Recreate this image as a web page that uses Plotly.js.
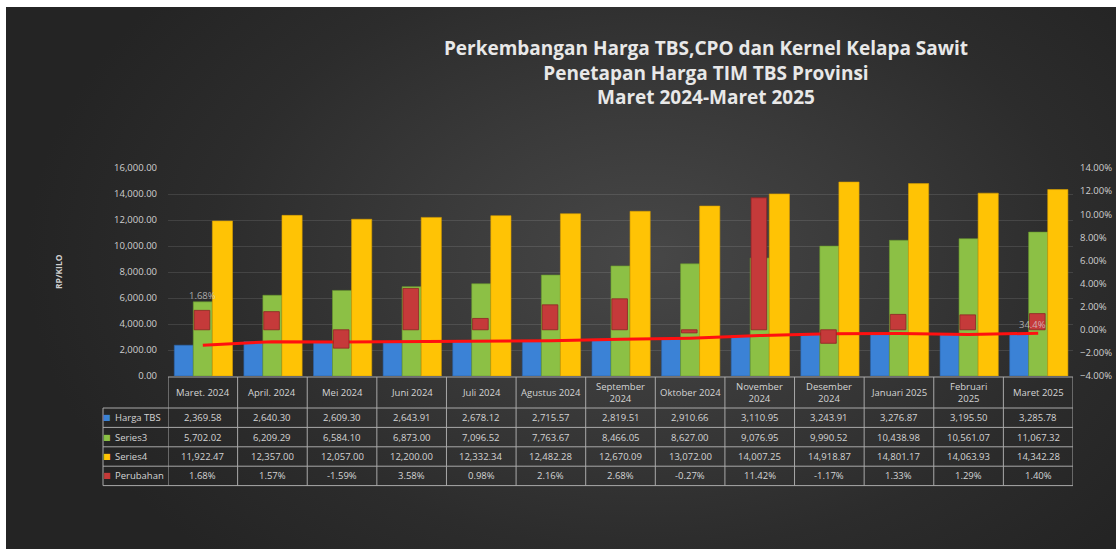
<!DOCTYPE html>
<html>
<head>
<meta charset="utf-8">
<script src="https://cdn.plot.ly/plotly-3.0.1.min.js"></script>
<style>
  html, body { margin: 0; padding: 0; background: #ffffff; }
  #bg { position: absolute; left: 6px; top: 7px; width: 1110px; height: 542px;
        background: radial-gradient(ellipse 620px 420px at 640px 250px, #474747 0%, #3a3a3a 35%, #2c2c2c 70%, #242424 100%); }
  #chart { position: absolute; left: 0; top: 0; width: 1116px; height: 549px; }
</style>
</head>
<body>
<div id="bg"></div>
<div id="chart"></div>
<script>
// ---- data ----
const categories = ['Maret. 2024','April. 2024','Mei 2024','Juni 2024','Juli 2024','Agustus 2024',
  'September 2024','Oktober 2024','November 2024','Desember 2024','Januari 2025','Februari 2025','Maret 2025'];
const tableHeaderLabels = ['Maret. 2024','April. 2024','Mei 2024','Juni 2024','Juli 2024','Agustus 2024',
  'September<br>2024','Oktober 2024','November<br>2024','Desember<br>2024','Januari 2025','Februari<br>2025','Maret 2025'];
const hargaTBS = [2369.58, 2640.30, 2609.30, 2643.91, 2678.12, 2715.57, 2819.51, 2910.66, 3110.95, 3243.91, 3276.87, 3195.50, 3285.78];
const series3  = [5702.02, 6209.29, 6584.10, 6873.00, 7096.52, 7763.67, 8466.05, 8627.00, 9076.95, 9990.52, 10438.98, 10561.07, 11067.32];
const series4  = [11922.47, 12357.00, 12057.00, 12200.00, 12332.34, 12482.28, 12670.09, 13072.00, 14007.25, 14918.87, 14801.17, 14063.93, 14342.28];
const perubahan = [1.68, 1.57, -1.59, 3.58, 0.98, 2.16, 2.68, -0.27, 11.42, -1.17, 1.33, 1.29, 1.40];
const seriesNames = ['Harga TBS', 'Series3', 'Series4', 'Perubahan'];
const lineEndLabel = '34.4%';

// ---- styles ----
const colors = { tbs: '#3b82d6', s3: '#8cc045', s4: '#ffc305', per: '#c53a3a', line: '#ff1010' };
const keyColors = [colors.tbs, colors.s3, colors.s4, colors.per];
const txt = '#d4d4d4';
const fontFam = 'Open Sans, Noto Sans, sans-serif';

const fmt = v => v.toLocaleString('en-US', { minimumFractionDigits: 2, maximumFractionDigits: 2 });
const fmtPct = v => v.toFixed(2) + '%';

// geometry helpers (pixels -> paper coords for the data table under the plot)
const M = { l: 168, r: 43, t: 168, b: 173 };
const plotW = 1116 - M.l - M.r, plotH = 549 - M.t - M.b;
const py = px => (549 - M.b - px) / plotH;
const pxX = px => (px - M.l) / plotW;
const tableTop = 377, headerBottom = 408, rowH = 19.4;
const rowLines = [0, 1, 2, 3, 4].map(k => headerBottom + k * rowH);
const tableBottom = rowLines[4];
const rowLeft = pxX(103);

const bw = 0.273;
const traces = [
  { type: 'bar', name: seriesNames[0], x: categories, y: hargaTBS, width: bw, offset: -0.41,
    marker: { color: colors.tbs, line: { color: '#2a62a8', width: 0.6 } }, xaxis: 'x', yaxis: 'y' },
  { type: 'bar', name: seriesNames[1], x: categories, y: series3, width: bw, offset: -0.137,
    marker: { color: colors.s3, line: { color: '#6a9a2e', width: 0.6 } }, xaxis: 'x', yaxis: 'y' },
  { type: 'bar', name: seriesNames[2], x: categories, y: series4, width: 0.29, offset: 0.137,
    marker: { color: colors.s4, line: { color: '#d9a000', width: 0.6 } }, xaxis: 'x', yaxis: 'y' },
  { type: 'bar', name: seriesNames[3], x: categories, y: perubahan, width: 0.225, offset: -0.125,
    marker: { color: colors.per, line: { color: '#8e2424', width: 0.8 } }, xaxis: 'x', yaxis: 'y2' },
  { type: 'scatter', mode: 'lines', name: seriesNames[0] + ' line', x: categories, y: hargaTBS,
    line: { color: colors.line, width: 3 }, xaxis: 'x', yaxis: 'y' }
];

// ---- data table (texts from the data arrays, columns aligned with the category axis) ----
const annotations = [];
const shapes = [];
const cellFont = { family: fontFam, size: 9.5, color: txt };
categories.forEach((c, i) => {
  annotations.push({ text: tableHeaderLabels[i], xref: 'x', yref: 'paper', x: c,
    y: py((tableTop + headerBottom) / 2), xanchor: 'center', yanchor: 'middle', showarrow: false, font: cellFont });
});
const tableRows = [hargaTBS.map(fmt), series3.map(fmt), series4.map(fmt), perubahan.map(fmtPct)];
tableRows.forEach((row, r) => {
  const yc = py(rowLines[r] + rowH / 2);
  annotations.push({ text: '■', xref: 'paper', yref: 'paper', x: pxX(107), y: yc,
    xanchor: 'center', yanchor: 'middle', showarrow: false, font: { family: 'DejaVu Sans', size: 8, color: keyColors[r] } });
  annotations.push({ text: seriesNames[r], xref: 'paper', yref: 'paper', x: pxX(113), y: yc,
    xanchor: 'left', yanchor: 'middle', showarrow: false, font: cellFont });
  row.forEach((v, i) => {
    annotations.push({ text: v, xref: 'x', yref: 'paper', x: categories[i], y: yc,
      xanchor: 'center', yanchor: 'middle', showarrow: false, font: cellFont });
  });
});
const lineStyle = { color: '#a9a9a9', width: 1 };
for (let k = 0; k <= categories.length; k++) {
  shapes.push({ type: 'line', xref: 'x', yref: 'paper', x0: k - 0.5, x1: k - 0.5,
    y0: py(tableTop), y1: py(tableBottom), line: lineStyle, layer: 'above' });
}
shapes.push({ type: 'line', xref: 'paper', yref: 'paper', x0: rowLeft, x1: rowLeft,
  y0: py(headerBottom), y1: py(tableBottom), line: lineStyle });
shapes.push({ type: 'line', xref: 'paper', yref: 'paper', x0: 0, x1: 1,
  y0: py(tableTop), y1: py(tableTop), line: lineStyle });
rowLines.forEach(yl => {
  shapes.push({ type: 'line', xref: 'paper', yref: 'paper', x0: rowLeft, x1: 1,
    y0: py(yl), y1: py(yl), line: lineStyle });
});

annotations.push(
  { text: '<b>RP/KILO</b>', xref: 'paper', yref: 'paper', x: pxX(58), y: py(272),
    xanchor: 'center', yanchor: 'middle',
    textangle: -90, showarrow: false, font: { family: fontFam, size: 8.5, color: '#cfcfcf' } },
  { text: fmtPct(perubahan[0]), xref: 'x', yref: 'y', x: categories[0], y: series3[0],
    yanchor: 'bottom', xanchor: 'center', showarrow: false, yshift: -2,
    font: { family: fontFam, size: 9.5, color: 'rgba(215,215,215,0.75)' } },
  { text: lineEndLabel, xref: 'x', yref: 'y', x: categories[categories.length - 1], y: hargaTBS[hargaTBS.length - 1],
    yanchor: 'bottom', xanchor: 'center', showarrow: false, xshift: -6, yshift: 0,
    font: { family: fontFam, size: 9.5, color: 'rgba(215,215,215,0.75)' } }
);

const layout = {
  width: 1116, height: 549,
  paper_bgcolor: 'rgba(0,0,0,0)', plot_bgcolor: 'rgba(0,0,0,0)',
  margin: { l: M.l, r: M.r, t: M.t, b: M.b, pad: 0 },
  showlegend: false,
  barmode: 'overlay',
  font: { family: fontFam, color: txt },
  title: {
    text: '<b>Perkembangan Harga TBS,CPO dan Kernel Kelapa Sawit</b><br><b>Penetapan Harga TIM TBS Provinsi</b><br><b>Maret 2024-Maret 2025</b>',
    x: 706 / 1116, xanchor: 'center', xref: 'container',
    y: 1 - 55 / 549, yanchor: 'top', yref: 'container',
    font: { family: fontFam, size: 19, color: '#e8e8e8' }
  },
  xaxis: {
    type: 'category', range: [-0.5, categories.length - 0.5], showticklabels: false,
    showline: false, ticks: '', showgrid: false, zeroline: false, fixedrange: true
  },
  yaxis: {
    range: [0, 16000], dtick: 2000, tickformat: ',.2f',
    tickfont: { family: fontFam, size: 9.5, color: '#cfcfcf' },
    showgrid: true, gridcolor: 'rgba(255,255,255,0.11)', gridwidth: 1,
    zeroline: false, showline: false, ticks: '', ticklabelstandoff: 10
  },
  yaxis2: {
    overlaying: 'y', side: 'right', anchor: 'x', range: [-4, 14], dtick: 2,
    tickformat: '.2f', ticksuffix: '%',
    tickfont: { family: fontFam, size: 9.5, color: '#cfcfcf' },
    showgrid: false, zeroline: false, showline: false, ticks: '', ticklabelstandoff: 6
  },
  shapes: shapes,
  annotations: annotations
};

Plotly.newPlot('chart', traces, layout, { displayModeBar: false, staticPlot: true });
</script>
</body>
</html>
